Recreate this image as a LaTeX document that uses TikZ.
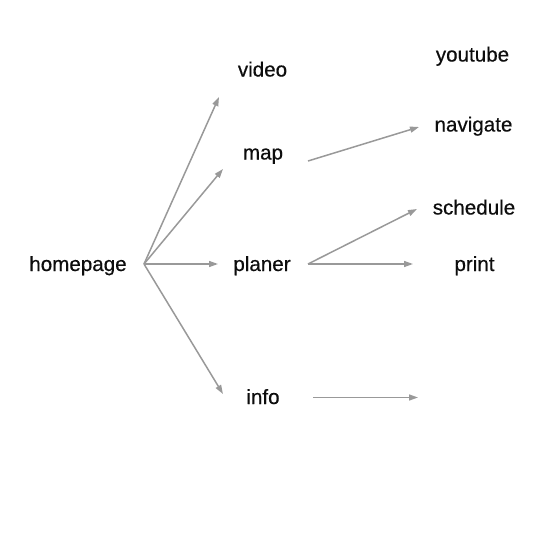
\documentclass[tikz,border=0pt]{standalone}
\usepackage{fontspec}
\setmainfont{Liberation Sans}
\newfontfamily\lblfont{Liberation Sans}[FakeBold=0.5]
\usetikzlibrary{arrows.meta}
\begin{document}
\begin{tikzpicture}[x=1pt,y=-1pt,
  lbl/.style={inner sep=0pt,anchor=base,font=\lblfont\fontsize{20.6}{24}\selectfont,text=black!95},
  conn/.style={draw=black!40,line width=1.5pt,-{Triangle[length=9pt,width=6pt]}}]
\useasboundingbox (0,0) rectangle (552,538);
\node[lbl] (homepage) at (78,271) {homepage};
\node[lbl] (video) at (262.5,76.5) {video};
\node[lbl] (map) at (263,159.5) {map};
\node[lbl] (planer) at (262,271) {planer};
\node[lbl] (info) at (263,404) {info};
\node[lbl] (youtube) at (472.5,61.5) {youtube};
\node[lbl] (navigate) at (473.5,131.5) {navigate};
\node[lbl] (schedule) at (474,214.5) {schedule};
\node[lbl] (print) at (474.5,271) {print};
% connector anchor points
\coordinate (hpout) at (144,264);
\coordinate (videoin) at (219,97);
\coordinate (mapin) at (223,169);
\coordinate (planerin) at (218,264);
\coordinate (infoin) at (223,394);
\coordinate (mapout) at (308,161);
\coordinate (navin) at (419,127);
\coordinate (planerout) at (308,264);
\coordinate (schedin) at (417,209);
\coordinate (printin) at (413,264);
\coordinate (infoout) at (313,397.5);
\coordinate (infoend) at (418,397.5);
\draw[conn] (hpout) -- (videoin);
\draw[conn] (hpout) -- (mapin);
\draw[conn] (hpout) -- (planerin);
\draw[conn] (hpout) -- (infoin);
\draw[conn] (mapout) -- (navin);
\draw[conn] (planerout) -- (schedin);
\draw[conn] (planerout) -- (printin);
\draw[conn] (infoout) -- (infoend);
\end{tikzpicture}
\end{document}
